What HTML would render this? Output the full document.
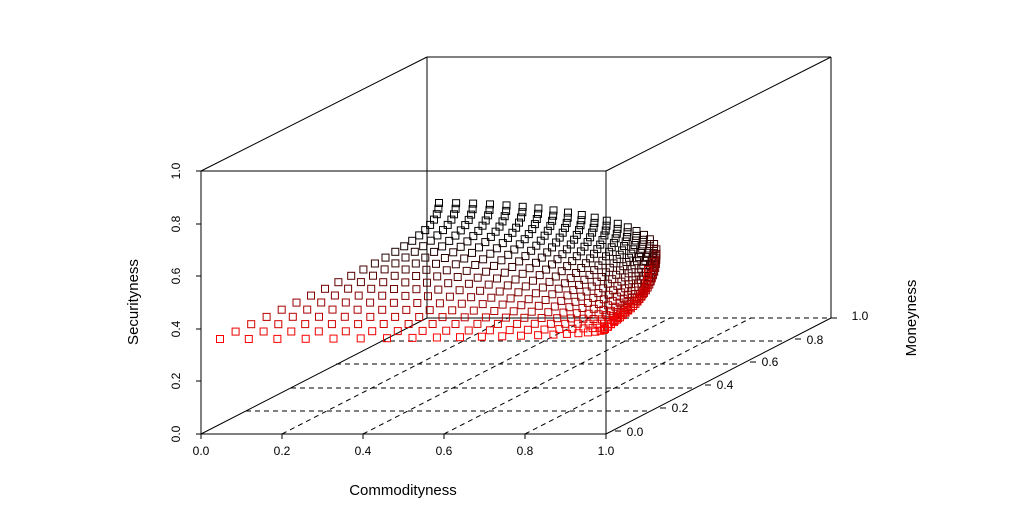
<!DOCTYPE html>
<html><head><meta charset="utf-8"><style>
body{margin:0;background:#fff}
svg{display:block}
text{font-family:"Liberation Sans",sans-serif;fill:#000}
</style></head><body>
<svg id="s" width="1015" height="512" viewBox="0 0 1015 512" xmlns="http://www.w3.org/2000/svg">
<g stroke="#000" stroke-width="1" fill="none">
<line x1="201" y1="171" x2="606" y2="171"/>
<line x1="201" y1="171" x2="201" y2="434"/>
<line x1="606" y1="171" x2="606" y2="434"/>
<line x1="201" y1="434" x2="606" y2="434"/>
<line x1="201" y1="171" x2="427" y2="57"/>
<line x1="606" y1="171" x2="831" y2="57"/>
<line x1="427" y1="57" x2="831" y2="57"/>
<line x1="427" y1="57" x2="427" y2="318"/>
<line x1="831" y1="57" x2="831" y2="318"/>
<line x1="201" y1="434" x2="427" y2="318"/>
<line x1="606" y1="434" x2="831" y2="318"/>
<line x1="427" y1="318" x2="606" y2="318"/>
<g stroke-dasharray="5,4">
<line x1="606" y1="318" x2="831" y2="318"/>
<line x1="246" y1="411" x2="651" y2="411"/>
<line x1="291" y1="388" x2="696" y2="388"/>
<line x1="336" y1="364" x2="741" y2="364"/>
<line x1="381" y1="341" x2="786" y2="341"/>
<line x1="282" y1="434" x2="508" y2="318"/>
<line x1="363" y1="434" x2="589" y2="318"/>
<line x1="444" y1="434" x2="670" y2="318"/>
<line x1="525" y1="434" x2="751" y2="318"/>
</g>
<line x1="201" y1="434" x2="201" y2="439"/><line x1="282" y1="434" x2="282" y2="439"/><line x1="363" y1="434" x2="363" y2="439"/><line x1="444" y1="434" x2="444" y2="439"/><line x1="525" y1="434" x2="525" y2="439"/><line x1="606" y1="434" x2="606" y2="439"/>
<line x1="196" y1="434" x2="201" y2="434"/><line x1="196" y1="381" x2="201" y2="381"/><line x1="196" y1="329" x2="201" y2="329"/><line x1="196" y1="276" x2="201" y2="276"/><line x1="196" y1="224" x2="201" y2="224"/><line x1="196" y1="171" x2="201" y2="171"/>
<line x1="615" y1="431" x2="621" y2="431"/><line x1="660" y1="408" x2="666" y2="408"/><line x1="705" y1="385" x2="711" y2="385"/><line x1="750" y1="362" x2="756" y2="362"/><line x1="795" y1="339" x2="801" y2="339"/><line x1="831" y1="318" x2="837" y2="318"/>
</g>
<g font-size="12" text-anchor="middle">
<text x="201" y="455">0.0</text><text x="282" y="455">0.2</text><text x="363" y="455">0.4</text><text x="444" y="455">0.6</text><text x="525" y="455">0.8</text><text x="606" y="455">1.0</text>
<text transform="translate(180,434) rotate(-90)">0.0</text>
<text transform="translate(180,381) rotate(-90)">0.2</text>
<text transform="translate(180,329) rotate(-90)">0.4</text>
<text transform="translate(180,276) rotate(-90)">0.6</text>
<text transform="translate(180,224) rotate(-90)">0.8</text>
<text transform="translate(180,171) rotate(-90)">1.0</text>
<text x="635" y="436">0.0</text><text x="680" y="412">0.2</text><text x="725" y="389">0.4</text><text x="770" y="366">0.6</text><text x="815" y="344">0.8</text><text x="860" y="320">1.0</text>
</g>
<g font-size="15" text-anchor="middle">
<text x="403" y="495">Commodityness</text>
<text transform="translate(138,302) rotate(-90)">Securityness</text>
<text transform="translate(916,318) rotate(-90)">Moneyness</text>
</g>
<g id="pts" fill="none" stroke-width="1"></g>
</svg>
<script>
var g=document.getElementById('pts'),h='';
var NC=22,NP=23;
for(var i=0;i<NC;i++){
 var u=i/(NC-1),a=u*Math.PI/2;
 var bx=220+385*Math.sin(a),by=339-10*u*u;
 var k=Math.pow(u,8);
 var tx=439+229*Math.sin(a)-20*k,ty=203+55*(1-Math.cos(a))+12*k;
 var zy=-32*(1-0.2*u);
 var ax=tx-bx,ay=(ty-by)-zy;
 for(var j=0;j<NP;j++){
  var v=j/(NP-1),b=v*Math.PI/2;
  var s=Math.sin(b),q=Math.pow(v,4);
  var px=bx+ax*s,py=by+ay*s+zy*q;
  var c=Math.min(1,v*1.3)*(1-Math.pow(u,4)*0.85);
  var R=Math.round(255*Math.pow(1-c,1.5));
  h+='<rect x="'+(px-3.5).toFixed(1)+'" y="'+(py-3.5).toFixed(1)+'" width="7" height="7" stroke="rgb('+R+',0,0)"/>';
 }
}
g.innerHTML=h;
</script>
</body></html>
